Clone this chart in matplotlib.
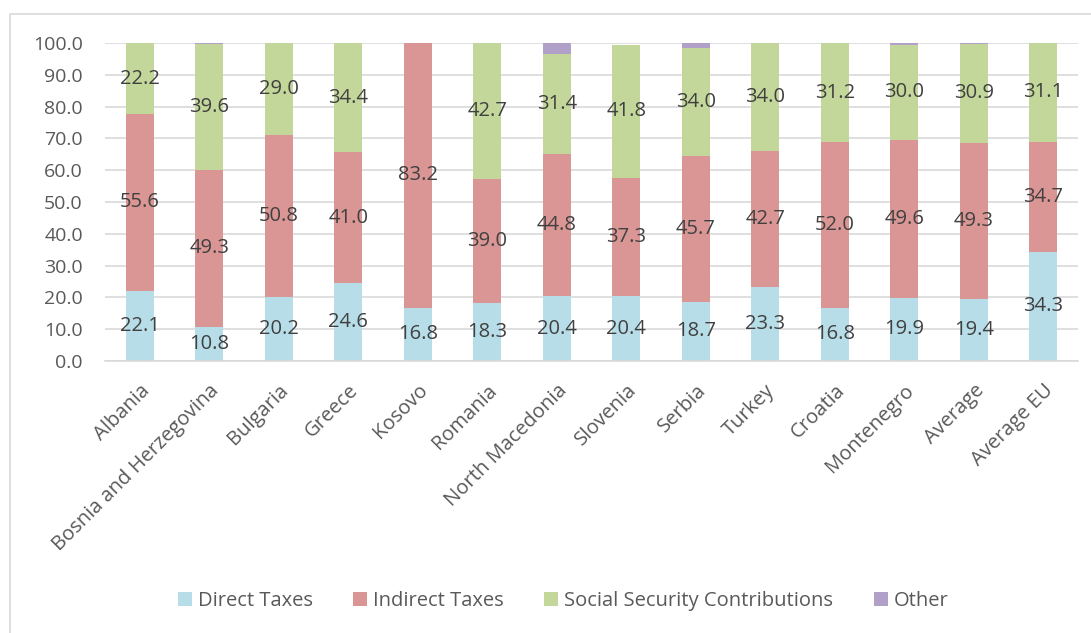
import matplotlib
matplotlib.use("Agg")
import matplotlib.pyplot as plt
from matplotlib.patches import Rectangle
import numpy as np

countries = ["Albania", "Bosnia and Herzegovina", "Bulgaria", "Greece", "Kosovo",
             "Romania", "North Macedonia", "Slovenia", "Serbia", "Turkey",
             "Croatia", "Montenegro", "Average", "Average EU"]
direct_taxes = [22.1, 10.8, 20.2, 24.6, 16.8, 18.3, 20.4, 20.4, 18.7, 23.3, 16.8, 19.9, 19.4, 34.3]
indirect_taxes = [55.6, 49.3, 50.8, 41.0, 83.2, 39.0, 44.8, 37.3, 45.7, 42.7, 52.0, 49.6, 49.3, 34.7]
social_security = [22.2, 39.6, 29.0, 34.4, 0.0, 42.7, 31.4, 41.8, 34.0, 34.0, 31.2, 30.0, 30.9, 31.1]
other = [0.1, 0.3, 0.0, 0.0, 0.0, 0.0, 3.4, 0.0, 1.6, 0.0, 0.0, 0.5, 0.4, 0.0]

series_names = ["Direct Taxes", "Indirect Taxes", "Social Security Contributions", "Other"]
colors = ["#B7DEE8", "#DA9694", "#C4D79B", "#B1A0C7"]

plt.rcParams["font.family"] = ["Open Sans", "DejaVu Sans"]

fig = plt.figure(figsize=(10.91, 6.33), dpi=100)
ax = fig.add_axes([105 / 1091, 1 - 361 / 633, (1078 - 105) / 1091, (361 - 43) / 633])

x = np.arange(len(countries))
bottom = np.zeros(len(countries))
all_series = [direct_taxes, indirect_taxes, social_security, other]
for idx, (vals, name, col) in enumerate(zip(all_series, series_names, colors)):
    vals = np.array(vals)
    ax.bar(x, vals, 0.4, bottom=bottom, color=col, label=name, zorder=2)
    if idx < 3:
        for xi, b, v in zip(x, bottom, vals):
            if v > 0:
                ax.text(xi, b + v / 2, f"{v:.1f}", ha="center", va="center",
                        fontsize=14.5, color="#404040", zorder=3)
    bottom += vals

ax.set_xlim(-0.5, len(countries) - 0.5)
ax.set_ylim(0, 100)
ax.set_yticks(np.arange(0, 101, 10))
ax.set_yticklabels([f"{v:.1f}" for v in np.arange(0, 101, 10)], fontsize=14, color="#595959")
ax.yaxis.grid(True, color="#D9D9D9", linewidth=1.2, zorder=0)
ax.set_axisbelow(True)
for s in ["top", "right", "left"]:
    ax.spines[s].set_visible(False)
ax.spines["bottom"].set_color("#D9D9D9")
ax.spines["bottom"].set_linewidth(1.2)
ax.tick_params(axis="y", length=0, pad=16)

ax.set_xticks(x)
ax.set_xticklabels(countries, rotation=45, ha="right", va="top",
                   rotation_mode="anchor", fontsize=14.5, color="#595959")
ax.tick_params(axis="x", length=0, pad=14)

ax.legend(loc="center", bbox_to_anchor=(563 / 1091, 1 - 601 / 633),
          bbox_transform=fig.transFigure, ncol=4, frameon=False,
          fontsize=14.5, labelcolor="#595959", handlelength=0.7, handleheight=0.7,
          handletextpad=0.3, columnspacing=2.0)

# Chart area border
fig.patches.append(Rectangle((10 / 1091, -0.1), 1.2, 1 - 14 / 633 + 0.1,
                             transform=fig.transFigure, fill=False,
                             edgecolor="#D9D9D9", linewidth=1.2))

fig.savefig("out.png", dpi=100)
